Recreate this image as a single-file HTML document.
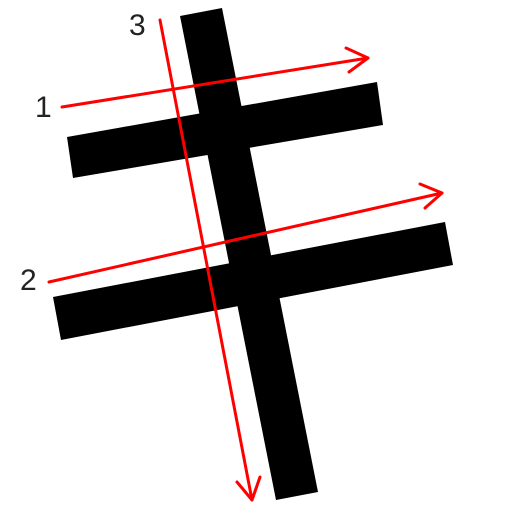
<!DOCTYPE html>
<html>
<head>
<meta charset="utf-8">
<style>
html,body{margin:0;padding:0;background:#fff;}
svg{display:block;}
text{font-family:"Liberation Sans",sans-serif;font-size:30px;fill:#222;}
</style>
</head>
<body>
<svg width="512" height="512" viewBox="0 0 512 512">
  <g fill="#000">
    <polygon points="67,137 377,82 383,125 73,178"/>
    <polygon points="53,297 445,222 453,265 61,340"/>
    <polygon points="180,16 222,8 318,492 276,500"/>
  </g>
  <g stroke="#f00" stroke-width="3" fill="none" stroke-linecap="round" stroke-linejoin="round">
    <g>
      <line x1="62" y1="107" x2="368" y2="58"/>
      <polyline points="346,48 368,58 349,72"/>
    </g>
    <g>
      <line x1="49" y1="282" x2="442" y2="193"/>
      <polyline points="420,184 442,193 425,208"/>
    </g>
    <g>
      <line x1="160" y1="20" x2="252" y2="500"/>
      <polyline points="237,482 252,500 260,477"/>
    </g>
  </g>
  <text x="35" y="117">1</text>
  <text x="20" y="290">2</text>
  <text x="129" y="35">3</text>
</svg>
</body>
</html>
